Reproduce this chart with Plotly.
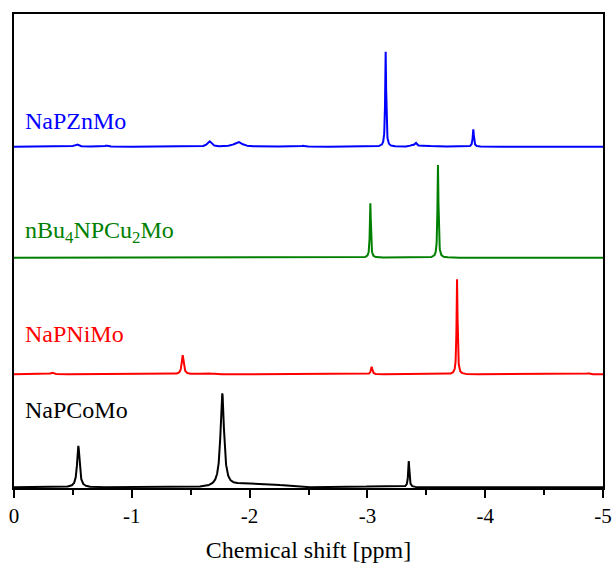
import numpy as np
import plotly.graph_objects as go

# Chemical shift axis (ppm)
ppm = np.linspace(0.0, -5.0, 5001)

# Peak tables: centre (ppm), height (a.u.), Lorentzian FWHM (ppm)
co_centers = [-0.546, -1.768, -3.351]
co_heights = [41.5, 93.5, 26.0]
co_fwhm = [0.025, 0.036, 0.012]
# broad humps: centre, height, gaussian sigma
co_hump_centers = [-1.98, -2.21, -3.10]
co_hump_heights = [3.6, 2.4, 1.0]
co_hump_sigma = [0.10, 0.10, 0.15]

ni_centers = [-0.323, -1.432, -1.638, -3.036, -3.761, -4.873]
ni_heights = [1.8, 19.0, 1.2, 7.5, 95.0, 1.0]
ni_fwhm = [0.03, 0.02, 0.08, 0.015, 0.01, 0.03]

cu_centers = [-3.025, -3.599]
cu_heights = [54.5, 92.7]
cu_fwhm = [0.01, 0.01]

zn_centers = [-0.532, -0.787, -1.658, -1.904, -2.456, -3.155, -3.376, -3.41, -3.503, -3.899]
zn_heights = [2.5, 1.2, 5.5, 4.6, 1.0, 95.0, 1.5, 3.5, 1.0, 17.4]
zn_fwhm = [0.04, 0.03, 0.04, 0.08, 0.03, 0.01, 0.02, 0.025, 0.10, 0.012]

labels = ["NaPCoMo", "NaPNiMo", "nBu<sub>4</sub>NPCu<sub>2</sub>Mo", "NaPZnMo"]
colors = ["#000000", "#ff0000", "#008000", "#0000ff"]
offsets = [0.7, 113.7, 230.3, 341.3]
label_y = [410.0, 333.5, 231.5, 121.0]  # pixel rows of label centres


def lorentz_sum(x, centers, heights, fwhm):
    y = np.zeros_like(x)
    for c, h, w in zip(centers, heights, fwhm):
        y += h / (1.0 + ((x - c) / (w / 2.0)) ** 2)
    return y


def gauss_sum(x, centers, heights, sigma):
    y = np.zeros_like(x)
    for c, h, s in zip(centers, heights, sigma):
        y += h * np.exp(-((x - c) ** 2) / (2 * s * s))
    return y


spectra = [
    lorentz_sum(ppm, co_centers, co_heights, co_fwhm)
    + gauss_sum(ppm, co_hump_centers, co_hump_heights, co_hump_sigma),
    lorentz_sum(ppm, ni_centers, ni_heights, ni_fwhm),
    lorentz_sum(ppm, cu_centers, cu_heights, cu_fwhm),
    lorentz_sum(ppm, zn_centers, zn_heights, zn_fwhm),
]

W, H = 612, 566
L, R, T, B = 14, 9, 14, 78
plot_h = H - T - B
serif = "Liberation Serif"

fig = go.Figure()
for spec, off, col in zip(spectra, offsets, colors):
    fig.add_trace(go.Scatter(x=np.round(ppm, 4).tolist(),
                             y=np.round(spec + off, 3).tolist(), mode="lines",
                             line=dict(color=col, width=2), showlegend=False,
                             hoverinfo="skip"))

for text, col, yp in zip(labels, colors, label_y):
    fig.add_annotation(text=text, xref="paper", yref="paper",
                       x=9 / (W - L - R), y=(H - B - yp) / plot_h,
                       xanchor="left", yanchor="middle", showarrow=False,
                       font=dict(family=serif, size=24, color=col))

major = [0, -1, -2, -3, -4, -5]
major_text = ["0", "-1", "-2", "-3", "-4", "-5"]
minor = [-0.5, -1.5, -2.5, -3.5, -4.5]

fig.update_layout(
    width=W, height=H,
    margin=dict(l=L, r=R, t=T, b=B, autoexpand=False),
    paper_bgcolor="white", plot_bgcolor="white",
    xaxis=dict(range=[0, -5], showgrid=False, zeroline=False, automargin=False,
               showline=True, mirror=True, linecolor="black", linewidth=1.5,
               ticks="outside", ticklen=8, tickwidth=1.5, tickcolor="black",
               tickvals=major, ticktext=major_text,
               tickfont=dict(size=21, family=serif, color="black"),
               minor=dict(tickvals=minor, ticks="outside", ticklen=5,
                          tickwidth=1.5, tickcolor="black", showgrid=False),
               title=dict(text="Chemical shift [ppm]", standoff=14,
                          font=dict(size=24, family=serif, color="black"))),
    yaxis=dict(range=[0, plot_h], showgrid=False, zeroline=False, automargin=False,
               showline=True, mirror=True, linecolor="black", linewidth=1.5,
               showticklabels=False, ticks=""),
)

fig.write_html("out.html")
